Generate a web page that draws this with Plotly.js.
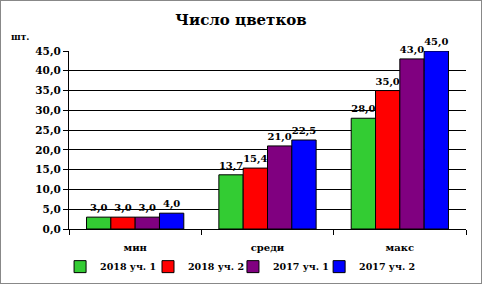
<!DOCTYPE html>
<html><head><meta charset="utf-8">
<script src="https://cdn.plot.ly/plotly-3.0.1.min.js"></script>
<style>
html,body{margin:0;padding:0;background:#fff;}
#chart{width:480px;height:282px;border:1px solid #888;}
</style></head>
<body><div id="chart"></div>
<script>
const categories = ['мин', 'среди', 'макс'];
const seriesNames = ['2018 уч. 1', '2018 уч. 2', '2017 уч. 1', '2017 уч. 2'];
const s2018u1 = [3.0, 13.7, 28.0];
const s2018u2 = [3.0, 15.4, 35.0];
const s2017u1 = [3.0, 21.0, 43.0];
const s2017u2 = [4.0, 22.5, 45.0];
const colors = ['#33CC33', '#FF0000', '#800080', '#0000FF'];
const allSeries = [s2018u1, s2018u2, s2017u1, s2017u2];
const legendIds = ['legend', 'legend2', 'legend3', 'legend4'];
const legendX = [-0.0225, 0.199, 0.413, 0.630];

const font = {family: 'DejaVu Serif', color: '#000', weight: 'bold'};

const traces = allSeries.map((vals, i) => ({
  type: 'bar',
  name: seriesNames[i],
  x: categories,
  y: vals,
  legend: legendIds[i],
  marker: {color: colors[i], line: {color: '#000', width: 1}},
  texttemplate: '%{y:.1f}',
  textposition: 'outside',
  cliponaxis: false,
  textfont: Object.assign({}, font, {size: 10}),
  hoverinfo: 'none'
}));

const layout = {
  width: 480, height: 282,
  margin: {l: 68, r: 15, t: 50, b: 54, autoexpand: false},
  paper_bgcolor: '#fff', plot_bgcolor: '#fff',
  separators: ', ',
  barmode: 'group',
  bargap: 0.265,
  bargroupgap: 0,
  showlegend: true,
  title: {text: 'Число цветков', font: Object.assign({}, font, {size: 15}), x: 0.5, xanchor: 'center', y: 0.935, yanchor: 'middle'},
  xaxis: {
    type: 'category',
    tickson: 'boundaries',
    ticks: 'outside', ticklen: 5, tickcolor: '#000',
    showline: true, linecolor: '#000', linewidth: 1,
    showgrid: false,
    tickfont: Object.assign({}, font, {size: 10}),
    ticklabelstandoff: 9
  },
  yaxis: {
    range: [0, 45], dtick: 5, tickformat: '.1f',
    ticks: 'outside', ticklen: 5, tickcolor: '#000',
    showline: true, linecolor: '#000', linewidth: 1,
    showgrid: true, gridcolor: '#000', gridwidth: 1,
    zeroline: false,
    tickfont: Object.assign({}, font, {size: 10.5})
  },
  annotations: [{
    text: 'шт.', xref: 'paper', yref: 'paper', x: -0.15, y: 1.08,
    xanchor: 'left', yanchor: 'middle', showarrow: false,
    font: Object.assign({}, font, {size: 9})
  }]
};

legendIds.forEach((id, i) => {
  layout[id] = {
    orientation: 'h', x: legendX[i], xanchor: 'left', y: -0.13, yanchor: 'top',
    font: Object.assign({}, font, {size: 9.5}),
    itemwidth: 30, bgcolor: 'rgba(0,0,0,0)'
  };
});

Plotly.newPlot('chart', traces, layout, {displayModeBar: false, staticPlot: true});
</script></body></html>
